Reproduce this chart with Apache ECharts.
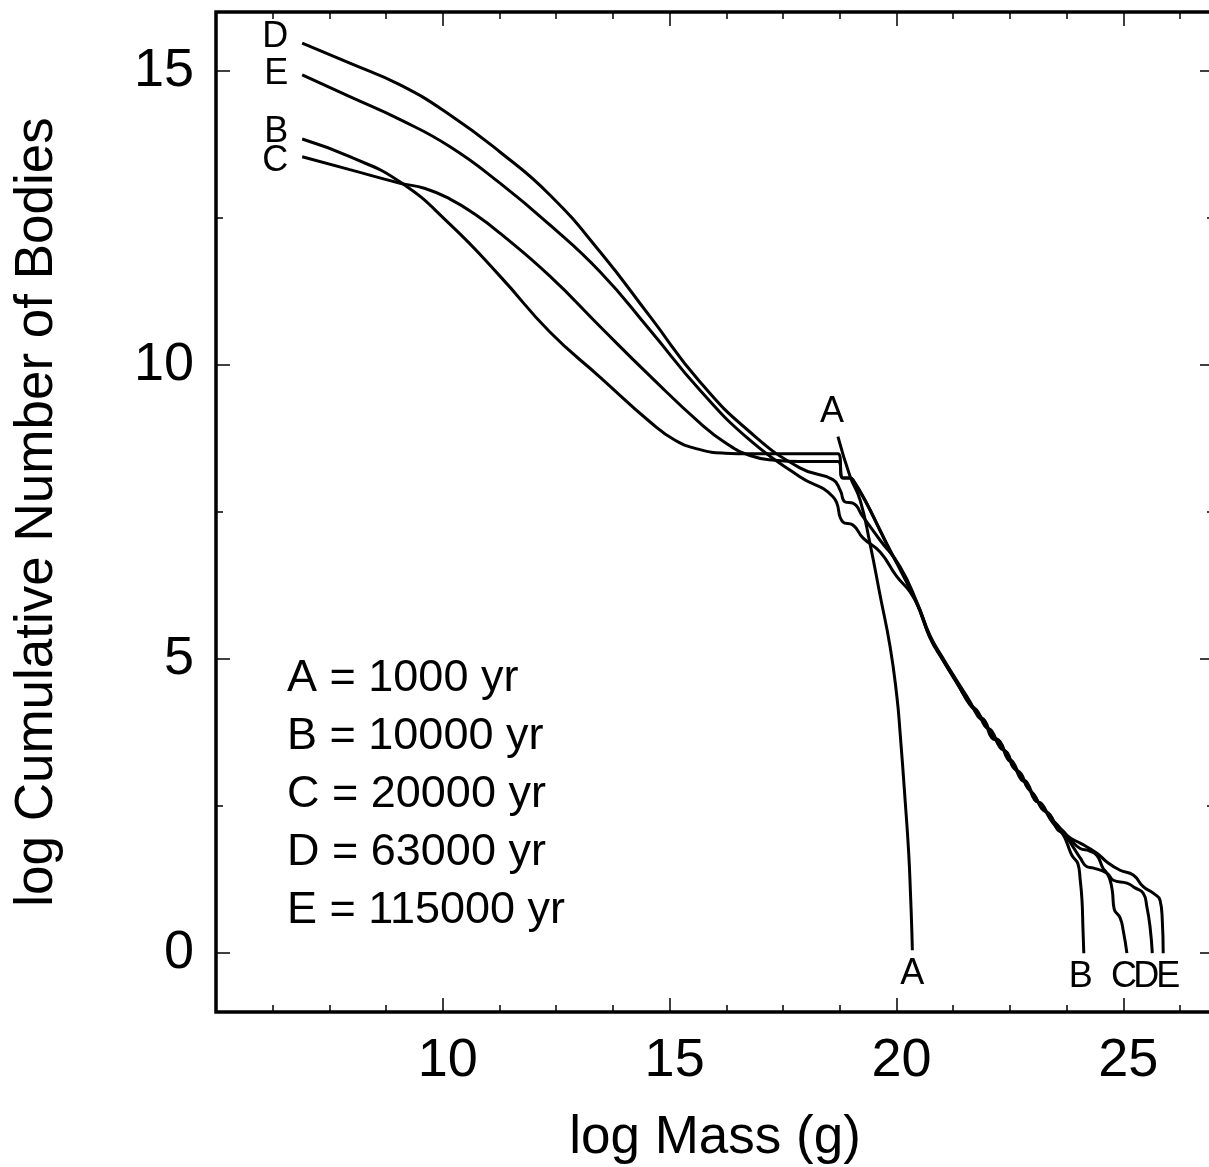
<!DOCTYPE html>
<html>
<head>
<meta charset="utf-8">
<script src="https://cdn.jsdelivr.net/npm/echarts@6/dist/echarts.min.js"></script>
<style>
  html, body { margin: 0; padding: 0; background: #fff; overflow: hidden; }
  #chart { width: 1216px; height: 1167px; }
</style>
</head>
<body>
<div id="chart"></div>
<script>
// log mass (g) vs log cumulative number of bodies, five epochs
const curveA = [[18.71,8.78],[18.98,8.10],[19.20,7.70],[19.42,6.95],[19.64,6.08],[19.86,5.21],[20.01,4.36],
  [20.08,3.75],[20.19,2.61],[20.27,1.70],[20.31,1.00],[20.34,0.35],[20.35,0.05]];

const curveB = [[6.90,13.84],[7.95,13.54],[9.06,13.11],[10.16,12.39],[11.26,11.51],[12.36,10.56],[13.47,9.79],
  [14.57,9.03],[15.12,8.72],[15.67,8.56],[16.22,8.50],[16.77,8.49],[17.80,8.49],[18.71,8.49],[18.82,8.08],
  [18.98,8.08],[19.04,8.05],[19.31,7.70],[19.64,7.19],[19.86,6.85],[20.08,6.54],[20.45,5.95],[20.74,5.38],
  [21.03,4.99],[21.34,4.60],[21.62,4.26],[21.80,4.05],[21.95,3.95],[22.10,3.70],[22.28,3.60],[22.45,3.32],
  [22.57,3.25],[22.75,2.98],[22.88,2.90],[23.05,2.62],[23.20,2.52],[23.39,2.28],[23.55,2.12],[23.67,2.02],
  [23.76,1.87],[23.87,1.66],[24.00,1.52],[24.05,1.25],[24.09,0.90],[24.11,0.45],[24.13,0.0]];

const curveC = [[6.90,13.54],[7.95,13.32],[9.06,13.09],[9.61,13.00],[10.16,12.82],[10.71,12.56],[11.26,12.24],
  [12.36,11.51],[13.47,10.65],[14.57,9.81],[15.67,9.01],[16.22,8.68],[16.77,8.46],[17.32,8.38],[17.87,8.36],
  [18.71,8.36],[18.82,8.08],[18.98,8.08],[19.04,8.04],[19.31,7.69],[19.64,7.18],[19.86,6.84],[20.08,6.52],
  [20.45,5.94],[20.74,5.37],[21.03,4.98],[21.34,4.59],[21.62,4.22],[21.80,4.08],[21.95,3.88],[22.10,3.75],
  [22.28,3.52],[22.45,3.38],[22.57,3.18],[22.75,3.02],[22.88,2.84],[23.05,2.66],[23.20,2.48],[23.39,2.33],
  [23.55,2.15],[23.67,2.08],[23.85,1.92],[24.05,1.78],[24.25,1.74],[24.42,1.66],[24.55,1.45],[24.64,1.36],
  [24.71,1.24],[24.76,1.05],[24.80,0.75],[24.93,0.60],[25.00,0.38],[25.08,0.0]];

const curveD = [[6.90,15.47],[7.95,15.13],[9.06,14.76],[10.16,14.25],[11.26,13.62],[12.36,12.89],[13.47,11.92],
  [14.57,10.82],[15.67,9.71],[16.77,8.86],[17.87,8.25],[18.60,8.05],[18.76,7.87],[18.87,7.67],[19.04,7.65],
  [19.26,7.42],[19.64,7.02],[20.08,6.57],[20.45,5.97],[20.74,5.40],[21.03,5.01],[21.34,4.62],[21.62,4.28],
  [21.80,4.02],[21.95,3.92],[22.10,3.66],[22.28,3.59],[22.45,3.30],[22.57,3.22],[22.75,2.95],[22.88,2.88],
  [23.05,2.60],[23.20,2.54],[23.39,2.30],[23.55,2.18],[23.67,2.06],[23.90,1.80],[24.05,1.62],[24.20,1.47],
  [24.33,1.45],[24.64,1.36],[24.78,1.24],[25.08,1.19],[25.26,1.11],[25.44,1.02],[25.52,0.79],[25.59,0.45],
  [25.64,0.0]];

const curveE = [[6.90,14.93],[7.95,14.56],[9.06,14.17],[10.16,13.71],[11.26,13.09],[12.36,12.38],[13.47,11.58],
  [14.57,10.59],[15.67,9.57],[16.77,8.72],[17.87,8.10],[18.60,7.76],[18.82,7.33],[19.04,7.28],[19.26,7.06],
  [19.64,6.82],[20.01,6.40],[20.30,6.14],[20.52,5.83],[20.74,5.36],[21.03,4.97],[21.34,4.58],[21.62,4.24],
  [21.80,4.10],[21.95,3.86],[22.10,3.78],[22.28,3.50],[22.45,3.40],[22.57,3.16],[22.75,3.05],[22.88,2.82],
  [23.05,2.68],[23.20,2.46],[23.39,2.35],[23.55,2.10],[23.67,2.05],[23.85,1.95],[24.05,1.87],[24.42,1.70],
  [24.64,1.55],[24.93,1.41],[25.22,1.33],[25.44,1.13],[25.66,1.02],[25.81,0.90],[25.86,0.56],[25.88,0.0]];

const curveNames = ["A", "B", "C", "D", "E"];
const epochs = ["1000", "10000", "20000", "63000", "115000"];

const xMajor = [10, 15, 20, 25];
const xMinor = [6.25, 7.5, 8.75, 11.25, 12.5, 13.75, 16.25, 17.5, 18.75, 21.25, 22.5, 23.75, 26.25];
const yMajor = [0, 5, 10, 15];
const yMinor = [2.5, 7.5, 12.5];

const FONT = "Liberation Sans, Arial, sans-serif";
const curves = [curveA, curveB, curveC, curveD, curveE];
const first = c => c[0];
const last = c => c[c.length - 1];

// letters next to curve starts and ends
const tagPoints = [
  { name: "D", value: first(curveD), label: { position: "left", distance: 14, offset: [0, -6] } },
  { name: "E", value: first(curveE), label: { position: "left", distance: 14, offset: [0, -1] } },
  { name: "B", value: first(curveB), label: { position: "left", distance: 14, offset: [0, -7] } },
  { name: "C", value: first(curveC), label: { position: "left", distance: 14, offset: [0, 4] } },
  { name: "A", value: first(curveA), label: { position: "top", distance: 4, offset: [-6, -3] } },
  { name: "A", value: last(curveA), label: { position: "bottom", distance: 4, offset: [0, 2] } },
  { name: "B", value: last(curveB), label: { position: "bottom", distance: 4, offset: [-3, 2] } },
  { name: "C", value: last(curveC), label: { position: "bottom", distance: 4, offset: [-3, 2] } },
  { name: "D", value: last(curveD), label: { position: "bottom", distance: 4, offset: [-6, 2] } },
  { name: "E", value: last(curveE), label: { position: "bottom", distance: 4, offset: [5, 2] } },
];

function tickAxis(kind, pos, values, len, withLabels) {
  const base = {
    type: "value",
    position: pos,
    min: kind === "x" ? 5 : -1,
    max: kind === "x" ? 27 : 16,
    axisLine: { show: false, onZero: false },
    splitLine: { show: false },
    axisTick: { show: true, inside: true, length: len, customValues: values, lineStyle: { color: "#000", width: 1.5 } },
    axisLabel: { show: false },
  };
  if (withLabels) {
    base.axisLabel = {
      show: true,
      customValues: values,
      color: "#000",
      fontFamily: FONT,
      fontSize: 54,
      margin: 22,
      padding: kind === "x" ? [0, 0, 0, 10] : 0,
    };
  }
  return base;
}

const xBottom = tickAxis("x", "bottom", xMajor, 14, true);
xBottom.name = "log Mass (g)";
xBottom.nameLocation = "middle";
xBottom.nameGap = 100;
xBottom.nameTextStyle = { color: "#000", fontFamily: FONT, fontSize: 53 };

const yLeft = tickAxis("y", "left", yMajor, 14, true);
yLeft.name = "log Cumulative Number of Bodies";
yLeft.nameLocation = "middle";
yLeft.nameGap = 152;
yLeft.nameTextStyle = { color: "#000", fontFamily: FONT, fontSize: 53 };

const chart = echarts.init(document.getElementById("chart"));
chart.setOption({
  animation: false,
  backgroundColor: "#fff",
  grid: {
    left: 216, top: 12, width: 998, height: 1000,
    outerBoundsMode: "none",
    show: true, borderColor: "#000", borderWidth: 3.5,
  },
  xAxis: [
    xBottom,
    tickAxis("x", "bottom", xMinor, 7, false),
    tickAxis("x", "top", xMajor, 14, false),
    tickAxis("x", "top", xMinor, 7, false),
  ],
  yAxis: [
    yLeft,
    tickAxis("y", "left", yMinor, 7, false),
    tickAxis("y", "right", yMajor, 14, false),
    tickAxis("y", "right", yMinor, 7, false),
  ],
  graphic: [{
    type: "text",
    left: 287,
    top: 650,
    style: {
      text: curveNames.map((n, i) => n + " = " + epochs[i] + " yr").join("\n"),
      font: "45px " + FONT,
      lineHeight: 58,
      fill: "#000",
    },
  }],
  series: curves.map((c, i) => ({
    name: curveNames[i],
    type: "line",
    data: c,
    showSymbol: false,
    smooth: 0.5,
    lineStyle: { color: "#000", width: 3 },
    z: 3,
  })).concat([{
    type: "scatter",
    data: tagPoints,
    symbolSize: 0,
    silent: true,
    itemStyle: { opacity: 1 },
    label: {
      show: true,
      formatter: p => p.name,
      color: "#000",
      fontFamily: FONT,
      fontSize: 36,
    },
    z: 4,
  }]),
});
</script>
</body>
</html>
